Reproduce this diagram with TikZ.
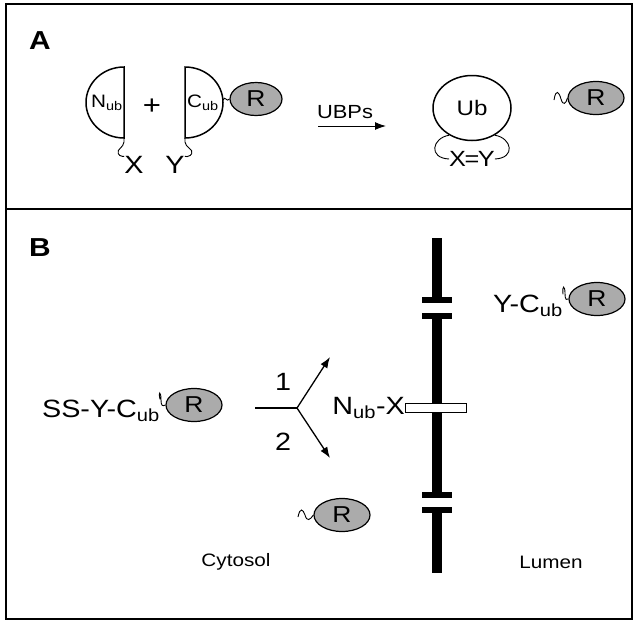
\documentclass[tikz,border=0pt]{standalone}
\usepackage{fontspec}
\setmainfont{Liberation Sans}[FakeStretch=1.15]
\usetikzlibrary{arrows.meta,positioning,shapes.geometric}
\definecolor{Shade}{HTML}{ABABAB}
\newcommand{\ubsub}{\textsubscript{ub}}

\begin{document}
\begin{tikzpicture}[x=1pt,y=-1pt,
    lbl/.style={inner sep=0pt,font=\fontsize{25}{28}\selectfont},
    small/.style={inner sep=0pt,font=\fontsize{18}{20}\selectfont},
    panel/.style={inner sep=0pt,font=\fontsize{26}{28}\selectfont\bfseries},
    rball/.style={ellipse,draw,line width=1.2pt,fill=Shade,minimum width=56pt,
      minimum height=33pt,inner sep=0pt,font=\fontsize{23}{25}\selectfont},
    half/.style={line width=1.5pt},
    wire/.style={line width=0.9pt},
    arr/.style={-{Latex[length=11pt,width=8pt]},line width=1.3pt},
    wall/.style={line width=10pt},
    lip/.style={line width=6pt}
  ]
  \useasboundingbox (0,0) rectangle (636,622);
  \draw[line width=1.5pt] (6,4) rectangle (632,619);
  \draw[line width=1.5pt] (6,209) -- (632,209);

  % panel A
  \node[panel] (labA) at (40,41) {A};
  \draw[half] (124,138) arc[start angle=90,end angle=270,x radius=38,y radius=35.5] -- cycle;
  \draw[half] (185,67) arc[start angle=-90,end angle=90,x radius=38,y radius=35.5] -- cycle;
  \node[small] (nub) at (107,103) {N\ubsub};
  \node[small] (cub) at (203,103) {C\ubsub};
  \node[lbl,font=\fontsize{27}{28}\selectfont] (plus) at (152,107) {+};
  \node[lbl] (xa) at (134,165) {X};
  \node[lbl] (ya) at (175,165) {Y};
  \coordinate (nfoot) at (124,138);
  \coordinate (cfoot) at (185,138);
  \draw[wire,rounded corners=2pt] (nfoot) -- (124,144) -- (117,152) -- (121,157) -- (xa.north west);
  \draw[wire,rounded corners=2pt] (cfoot) -- (185,144) -- (193,152) -- (189,157) -- (ya.north east);
  \node[rball,minimum width=52pt] (ra) at (256,99) {R};
  \coordinate (cnose) at (223,100);
  \draw[wire] (cnose) .. controls (225,95) and (227,103) .. (ra.west);

  \node[small,font=\fontsize{19}{21}\selectfont] (ubps) at (345,112) {UBPs};
  \coordinate (ubpsL) at (318,126);
  \coordinate (ubpsR) at (386,126);
  \draw[arr,line width=1pt] (ubpsL) -- (ubpsR);

  \node[ellipse,draw,half,minimum width=78pt,minimum height=65pt,inner sep=0pt,
    font=\fontsize{21}{23}\selectfont] (ub) at (472,108) {Ub};
  \node[small,font=\fontsize{22}{24}\selectfont] (xy) at (472,159) {X\kern-1.5pt=\kern-1.5pt Y};
  \draw[wire] (ub.230) .. controls (432,138) and (428,158) .. (xy.west);
  \draw[wire] (ub.310) .. controls (512,138) and (516,158) .. (xy.east);

  \node[rball] (rb) at (596,98) {R};
  \coordinate (tailA) at (554,100);
  \draw[wire] (tailA) .. controls (556,88) and (559,92) .. (561,99)
    .. controls (563,106) and (566,104) .. (rb.west);

  % panel B
  \node[panel] (labB) at (40,248) {B};
  \draw[wall] (437,238) -- (437,303);
  \draw[wall] (437,313) -- (437,498);
  \draw[wall] (437,507) -- (437,573);
  \foreach \h in {300,316,495,510}
    \draw[lip] (422,\h) -- (452,\h);
  \node[draw,fill=white,line width=1pt,minimum width=61pt,minimum height=9pt,
    inner sep=0pt] (tm) at (436,408) {};
  \node[lbl,left=0pt of tm] (nubx) {N\ubsub-X};

  \coordinate (stem) at (255,408);
  \coordinate (fork) at (297,408);
  \coordinate (tip1) at (330,357);
  \coordinate (tip2) at (330,458);
  \draw[line width=1.3pt] (stem) -- (fork);
  \draw[arr] (fork) -- (tip1);
  \draw[arr] (fork) -- (tip2);
  \node[lbl] (one) at (283,382) {1};
  \node[lbl] (two) at (283,442) {2};

  \node[rball] (rss) at (194,405) {R};
  \node[lbl,anchor=base east] (ss) at (160,417) {SS-Y-C\ubsub};
  \draw[wire] (ss.north east) .. controls (158,390) and (161,392) .. (161,399)
    .. controls (161,407) and (163,406) .. (rss.west);

  \node[rball] (rlum) at (597,299) {R};
  \node[lbl,anchor=base east] (yc) at (563,312) {Y-C\ubsub};
  \draw[wire] (yc.north east) .. controls (562,284) and (565,286) .. (565,293)
    .. controls (565,301) and (567,300) .. (rlum.west);

  \node[rball] (rcyt) at (342,515) {R};
  \coordinate (cut) at (298,517);
  \draw[wire] (cut) .. controls (300,507) and (303,509) .. (305,515)
    .. controls (307,522) and (310,520) .. (rcyt.west);

  \node[small] (cyto) at (236,562) {Cytosol};
  \node[small] (lumen) at (551,562) {Lumen};
\end{tikzpicture}
\end{document}
